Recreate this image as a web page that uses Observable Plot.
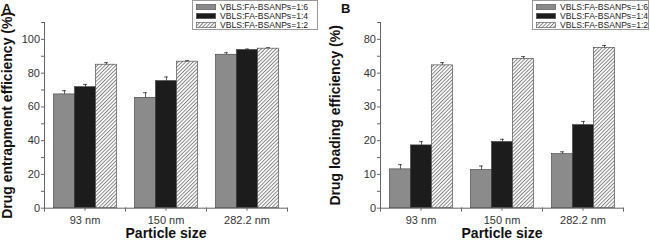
<!DOCTYPE html>
<html><head><meta charset="utf-8">
<script src="https://cdn.jsdelivr.net/npm/d3@7"></script>
<script src="https://cdn.jsdelivr.net/npm/@observablehq/plot@0.6"></script>
<style>
body{margin:0;background:#fff;}
#wrap{position:relative;width:650px;height:241px;overflow:hidden;font-family:"Liberation Sans",Arial,sans-serif;background:#fff;}
.panel{position:absolute;top:0;width:325px;height:241px;}
.panel svg{display:block;}
.panel svg [aria-label="y-axis label"] text,
.panel svg [aria-label="fx-axis label"] text{font-weight:bold;font-size:14px;fill:#111;}
.letter{position:absolute;top:1.5px;font:bold 13px "Liberation Sans",Arial,sans-serif;line-height:13px;color:#111;}
.legend{position:absolute;top:0;height:30px;border:1px solid #999;background:#fff;box-sizing:border-box;padding:1.5px 0 0 3px;overflow:hidden;}
.row{display:flex;align-items:center;height:9.2px;font-size:8.6px;color:#222;white-space:nowrap;}
.row svg{margin-right:4px;flex:none;}
</style>
</head><body>
<svg width="0" height="0" style="position:absolute">
<defs><pattern id="hatch" patternUnits="userSpaceOnUse" width="2.6" height="2.6" patternTransform="rotate(45)">
<rect width="2.6" height="2.6" fill="#fff"/><line x1="0.5" y1="0" x2="0.5" y2="2.6" stroke="#7a7a7a" stroke-width="0.9"/></pattern></defs></svg>
<div id="wrap"></div>
<script>
// ---- data ----
const sizes = ["93 nm", "150 nm", "282.2 nm"];
const ratios = ["1:6", "1:4", "1:2"];
const seriesNames = ["VBLS:FA-BSANPs=1:6", "VBLS:FA-BSANPs=1:4", "VBLS:FA-BSANPs=1:2"];
const fills = ["#8b8b8b", "#1c1c1c", "url(#hatch)"];

// Panel A: drug entrapment efficiency (%)
const entrap16 = [67.4, 65.4, 90.9];
const entrap16Err = [2.2, 3.0, 1.2];
const entrap14 = [71.7, 75.3, 93.7];
const entrap14Err = [1.6, 2.4, 0.6];
const entrap12 = [85.0, 86.8, 94.5];
const entrap12Err = [1.2, 0.6, 0.6];
const yTicksA = [0, 20, 40, 60, 80, 100];
const yLabelsA = ["0", "20", "40", "60", "80", "100"];
const yMinorA = [10, 30, 50, 70, 90, 110];
const yMaxA = 110;

// Panel B: drug loading efficiency (%)
const load16 = [11.5, 11.3, 16.0];
const load16Err = [1.4, 1.2, 0.7];
const load14 = [18.6, 19.6, 24.6];
const load14Err = [1.1, 0.8, 1.1];
const load12 = [42.3, 44.2, 47.5];
const load12Err = [0.8, 0.7, 0.7];
const yTicksB = [0, 10, 20, 30, 40, 50];
const yLabelsB = ["0", "10", "20", "30", "40", "80"];
const yMinorB = [5, 15, 25, 35, 45, 55];
const yMaxB = 55;

function table(series, errs) {
  const out = [];
  ratios.forEach((r, i) => sizes.forEach((s, j) => out.push({size: s, ratio: r, value: series[i][j], err: errs[i][j]})));
  return out;
}
const dataA = table([entrap16, entrap14, entrap12], [entrap16Err, entrap14Err, entrap12Err]);
const dataB = table([load16, load14, load12], [load16Err, load14Err, load12Err]);

const H = 241, MT = 22, MB = 33.3;
function panel(data, cfg) {
  return Plot.plot({
    width: 325, height: H,
    marginLeft: cfg.ml, marginRight: cfg.mr, marginTop: MT, marginBottom: MB,
    style: {fontFamily: "Liberation Sans, Arial, sans-serif", fontSize: "11px", color: "#333", background: "transparent"},
    fx: {domain: sizes, paddingInner: 0, paddingOuter: 0},
    x: {domain: ratios, paddingInner: 0, paddingOuter: 0.348, axis: null},
    y: {domain: [0, cfg.ymax]},
    color: {domain: ratios, range: fills},
    marks: [
      Plot.barY(data, {fx: "size", x: "ratio", y: "value", fill: "ratio", stroke: "#3a3a3a", strokeWidth: 0.6}),
      Plot.ruleX(data, {fx: "size", x: "ratio", y1: "value", y2: d => d.value + d.err, stroke: "#333", strokeWidth: 0.8}),
      Plot.tickY(data, {fx: "size", x: "ratio", y: d => d.value + d.err, stroke: "#333", strokeWidth: 0.8, insetLeft: 8.5, insetRight: 8.5}),
      Plot.frame({anchor: "bottom", stroke: "#666"}),
      Plot.frame({anchor: "left", facetAnchor: "left", stroke: "#666"}),
      // minor ticks at the group boundaries of the x axis
      Plot.frame({anchor: "left", stroke: "#666", insetTop: H - MT - MB, insetBottom: -3}),
      Plot.frame({anchor: "right", facetAnchor: "right", stroke: "#666", insetTop: H - MT - MB, insetBottom: -3}),
      Plot.axisY({ticks: cfg.ticks, tickSize: 3, tickPadding: 1.5, stroke: "#666",
        tickFormat: d => cfg.labels[cfg.ticks.indexOf(d)],
        label: cfg.label, labelArrow: "none", labelAnchor: "center", labelOffset: cfg.lo}),
      Plot.axisY({ticks: cfg.minor, tickSize: 3, stroke: "#666", tickFormat: () => "", label: null}),
      Plot.axisFx({anchor: "bottom", tickSize: 3, tickPadding: 5, stroke: "#666",
        label: "Particle size", labelArrow: "none", labelAnchor: "center", labelOffset: 30})
    ]
  });
}

function legendBox(left, width) {
  const box = document.createElement("div");
  box.className = "legend";
  box.style.left = left + "px";
  box.style.width = width + "px";
  seriesNames.forEach((name, i) => {
    const row = document.createElement("div");
    row.className = "row";
    row.innerHTML = `<svg width="20" height="6"><rect x="0.3" y="0.3" width="19.4" height="5.4" fill="${fills[i]}" stroke="#555" stroke-width="0.6"/></svg><span>${name}</span>`;
    box.appendChild(row);
  });
  return box;
}

const wrap = document.getElementById("wrap");
const pA = document.createElement("div"); pA.className = "panel"; pA.style.left = "0px";
pA.appendChild(panel(dataA, {ml: 43.5, mr: 37.6, ymax: yMaxA, ticks: yTicksA, labels: yLabelsA, minor: yMinorA,
  label: "Drug entrapment efficiency (%)", lo: 42}));
const pB = document.createElement("div"); pB.className = "panel"; pB.style.left = "325px";
pB.appendChild(panel(dataB, {ml: 54.5, mr: 26.6, ymax: yMaxB, ticks: yTicksB, labels: yLabelsB, minor: yMinorB,
  label: "Drug loading efficiency (%)", lo: 50}));
wrap.appendChild(pA); wrap.appendChild(pB);
const lA = document.createElement("div"); lA.className = "letter"; lA.style.left = "2px"; lA.textContent = "A";
const lB = document.createElement("div"); lB.className = "letter"; lB.style.left = "341px"; lB.textContent = "B";
wrap.appendChild(lA); wrap.appendChild(lB);
wrap.appendChild(legendBox(192, 126));
wrap.appendChild(legendBox(532, 117));
</script>
</body></html>
